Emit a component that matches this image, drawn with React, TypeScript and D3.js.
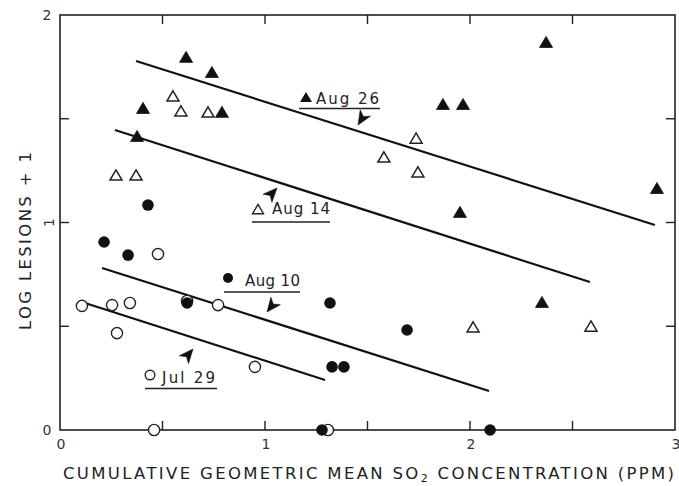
import React from "react";
import * as d3 from "d3";

// ---- Data ----
const aug26X = [0.376, 0.405, 0.615, 0.741, 0.79, 1.868, 1.966, 2.371, 1.951, 2.351, 2.912];
const aug26Y = [1.412, 1.547, 1.793, 1.72, 1.528, 1.566, 1.566, 1.865, 1.046, 0.612, 1.161];

const aug14X = [0.273, 0.371, 0.551, 0.59, 0.722, 1.58, 1.737, 1.746, 2.015, 2.59];
const aug14Y = [1.224, 1.224, 1.605, 1.533, 1.528, 1.311, 1.402, 1.239, 0.492, 0.496];

const jul29X = [0.107, 0.254, 0.341, 0.278, 0.478, 0.62, 0.771, 0.951, 0.459, 1.307];
const jul29Y = [0.598, 0.602, 0.612, 0.467, 0.848, 0.622, 0.602, 0.304, 0, 0];

const aug10X = [0.215, 0.332, 0.429, 0.62, 1.317, 1.327, 1.385, 1.693, 1.278, 2.098];
const aug10Y = [0.906, 0.843, 1.084, 0.612, 0.612, 0.304, 0.304, 0.482, 0, 0];

// regression lines: [x0, y0, x1, y1]
const lineAug26 = [0.371, 1.778, 2.902, 0.988];
const lineAug14 = [0.268, 1.446, 2.585, 0.713];
const lineAug10 = [0.205, 0.781, 2.093, 0.188];
const lineJul29 = [0.122, 0.612, 1.293, 0.241];

const xTicks = [0, 0.5, 1, 1.5, 2, 2.5, 3];
const xTickLabels = ["0", "", "1", "", "2", "", "3"];
const yTicks = [0, 0.5, 1, 1.5, 2];
const yTickLabels = ["0", "", "1", "", "2"];

const W = 679;
const H = 486;

const x = d3.scaleLinear().domain([0, 3]).range([60, 675]);
const y = d3.scaleLinear().domain([0, 2]).range([430, 15]);

const triPath = (cx: number, cy: number, s = 12) => {
  const h = s * 0.85;
  return `M${cx},${cy - h * 0.6} L${cx + s / 2},${cy + h * 0.4} L${cx - s / 2},${cy + h * 0.4} Z`;
};

const arrowPath = (tx: number, ty: number, dx: number, dy: number) => {
  const len = Math.hypot(dx, dy);
  const ux = dx / len, uy = dy / len;
  const nx = -uy, ny = ux;
  const L = 14, w = 6;
  const p1 = [tx, ty];
  const p2 = [tx - L * ux + w * nx, ty - L * uy + w * ny];
  const p3 = [tx - 0.72 * L * ux, ty - 0.72 * L * uy];
  const p4 = [tx - L * ux - w * nx, ty - L * uy - w * ny];
  return `M${p1} L${p2} L${p3} L${p4} Z`;
};

const font = "'DejaVu Sans', 'Liberation Sans', Arial, sans-serif";

export default function App() {
  const lines = [lineAug26, lineAug14, lineAug10, lineJul29];
  return (
    <svg width={W} height={H} style={{ position: "absolute", left: 0, top: 0, background: "#fff" }} fontFamily={font}>
      <rect x={0} y={0} width={W} height={H} fill="#fff" />
      {/* frame */}
      <rect x={x(0)} y={y(2)} width={x(3) - x(0)} height={y(0) - y(2)} fill="none" stroke="#222" strokeWidth={1.6} />
      {/* ticks */}
      {xTicks.filter((t) => t > 0 && t < 3).map((t) => (
        <g key={"xt" + t}>
          <line x1={x(t)} x2={x(t)} y1={y(0)} y2={y(0) - 9} stroke="#222" strokeWidth={1.4} />
          <line x1={x(t)} x2={x(t)} y1={y(2)} y2={y(2) + 9} stroke="#222" strokeWidth={1.4} />
        </g>
      ))}
      {yTicks.filter((t) => t > 0 && t < 2).map((t) => (
        <g key={"yt" + t}>
          <line x1={x(0)} x2={x(0) + 9} y1={y(t)} y2={y(t)} stroke="#222" strokeWidth={1.4} />
          <line x1={x(3)} x2={x(3) - 9} y1={y(t)} y2={y(t)} stroke="#222" strokeWidth={1.4} />
        </g>
      ))}
      {/* tick labels */}
      {xTicks.map((t, i) =>
        xTickLabels[i] ? (
          <text key={"xl" + t} x={x(t) + 1} y={y(0) + 19} fontSize={14} textAnchor="middle" fill="#333">
            {xTickLabels[i]}
          </text>
        ) : null
      )}
      {yTicks.map((t, i) =>
        yTickLabels[i] ? (
          t === 1 ? (
            <text key={"yl" + t} x={0} y={0} fontSize={14} textAnchor="middle" fill="#333"
              transform={`translate(${x(0) - 6},${y(t)}) rotate(-90)`}>
              {yTickLabels[i]}
            </text>
          ) : (
            <text key={"yl" + t} x={x(0) - 13} y={y(t) + 5} fontSize={14} textAnchor="middle" fill="#333">
              {yTickLabels[i]}
            </text>
          )
        ) : null
      )}
      {/* axis titles */}
      <text x={63} y={479} fontSize={16.5} fill="#222" textLength={611} lengthAdjust="spacing">
        CUMULATIVE GEOMETRIC MEAN SO<tspan fontSize={11} dy={3}>2</tspan><tspan dy={-3}> CONCENTRATION (PPM)</tspan>
      </text>
      <text x={0} y={0} fontSize={16.5} fill="#222" textAnchor="middle" textLength={178} lengthAdjust="spacing"
        transform={`translate(31,241) rotate(-90)`}>
        LOG LESIONS + 1
      </text>
      {/* regression lines */}
      {lines.map((l, i) => (
        <line key={"l" + i} x1={x(l[0])} y1={y(l[1])} x2={x(l[2])} y2={y(l[3])} stroke="#111" strokeWidth={2.2} />
      ))}
      {/* Jul 29 open circles */}
      {jul29X.map((v, i) => (
        <circle key={"j" + i} cx={x(v)} cy={y(jul29Y[i])} r={5.6} fill="#fff" stroke="#222" strokeWidth={1.4} />
      ))}
      {/* Aug 10 filled circles */}
      {aug10X.map((v, i) => (
        <circle key={"a10" + i} cx={x(v)} cy={y(aug10Y[i])} r={5.8} fill="#111" />
      ))}
      {/* Aug 14 open triangles */}
      {aug14X.map((v, i) => (
        <path key={"a14" + i} d={triPath(x(v), y(aug14Y[i]), 12)} fill="#fff" stroke="#222" strokeWidth={1.5} />
      ))}
      {/* Aug 26 filled triangles */}
      {aug26X.map((v, i) => (
        <path key={"a26" + i} d={triPath(x(v), y(aug26Y[i]), 13)} fill="#111" stroke="#111" strokeWidth={0.8} />
      ))}
      {/* annotations */}
      <g fill="#222">
        <path d={triPath(306, 98, 12)} fill="#111" />
        <text x={316} y={104} fontSize={15} textLength={63} lengthAdjust="spacing">Aug 26</text>
        <line x1={299} x2={380} y1={108.5} y2={108.5} stroke="#222" strokeWidth={1.6} />
        <path d={arrowPath(358, 125, -8, 13)} fill="#111" stroke="#111" strokeWidth={0.6} />

        <path d={triPath(258, 210, 11)} fill="#fff" stroke="#222" strokeWidth={1.4} />
        <text x={272} y={214} fontSize={15} textLength={58} lengthAdjust="spacing">Aug 14</text>
        <line x1={252} x2={330} y1={222} y2={222} stroke="#222" strokeWidth={1.6} />
        <path d={arrowPath(277, 188, 12, -13)} fill="#111" stroke="#111" strokeWidth={0.6} />

        <circle cx={228} cy={278} r={5} fill="#111" />
        <text x={245} y={286} fontSize={15} textLength={55} lengthAdjust="spacing">Aug 10</text>
        <line x1={224} x2={300} y1={292} y2={292} stroke="#222" strokeWidth={1.6} />
        <path d={arrowPath(267, 312, -11, 14)} fill="#111" stroke="#111" strokeWidth={0.6} />

        <circle cx={150} cy={375} r={4.8} fill="#fff" stroke="#222" strokeWidth={1.4} />
        <text x={162} y={383} fontSize={15} textLength={53} lengthAdjust="spacing">Jul 29</text>
        <line x1={145} x2={217} y1={388.5} y2={388.5} stroke="#222" strokeWidth={1.6} />
        <path d={arrowPath(193, 349, 11, -13)} fill="#111" stroke="#111" strokeWidth={0.6} />
      </g>
    </svg>
  );
}
